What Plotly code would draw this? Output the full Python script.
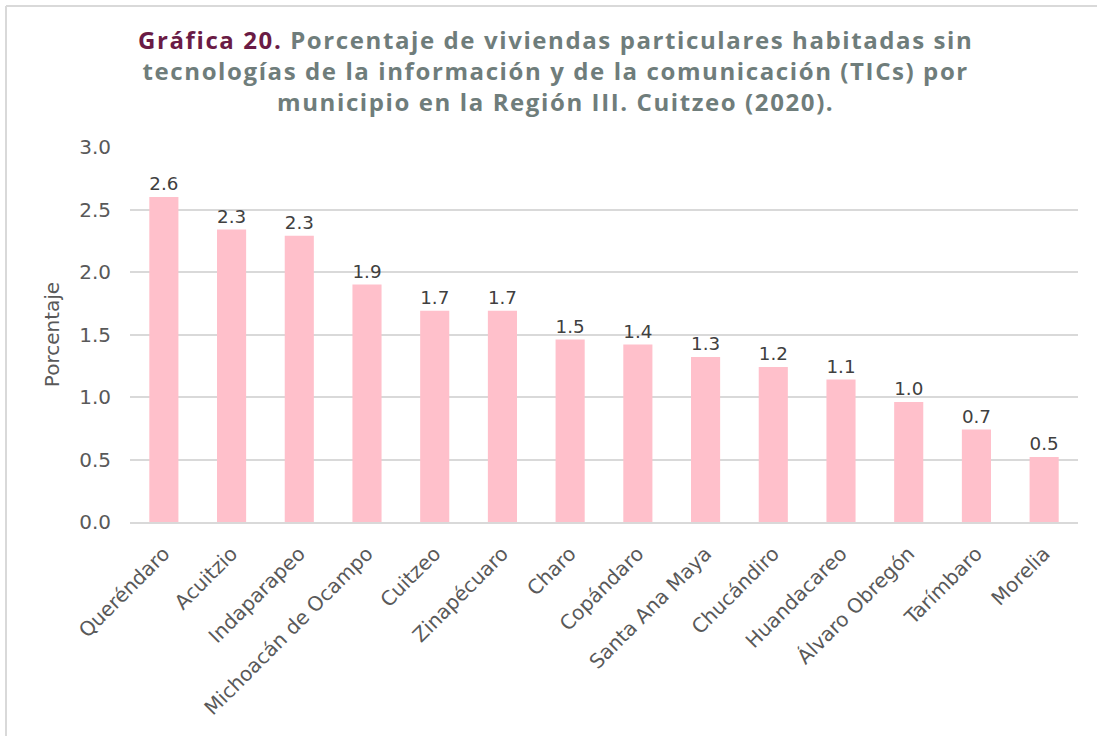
import plotly.graph_objects as go

municipios = ["Queréndaro", "Acuitzio", "Indaparapeo", "Michoacán de Ocampo", "Cuitzeo",
              "Zinapécuaro", "Charo", "Copándaro", "Santa Ana Maya", "Chucándiro",
              "Huandacareo", "Álvaro Obregón", "Tarímbaro", "Morelia"]
porcentaje = [2.60, 2.34, 2.29, 1.90, 1.69, 1.69, 1.46, 1.42, 1.32, 1.24, 1.14, 0.96, 0.74, 0.52]
y_ticks = [0.0, 0.5, 1.0, 1.5, 2.0, 2.5, 3.0]
title_lines = [
    "<span style='color:#6A1B45'>Gráfica 20.</span> Porcentaje de viviendas particulares habitadas sin",
    "tecnologías de la información y de la comunicación (TICs) por",
    "municipio en la Región III. Cuitzeo (2020).",
]

W, H = 1097, 736
L, R, T, B = 130, 19, 147, 214
pw, ph = W - L - R, H - T - B

def px(x):
    return (x - L) / pw

def py(y):
    return (H - B - y) / ph

tick_font = "DejaVu Sans, sans-serif"

fig = go.Figure(go.Bar(
    x=municipios, y=porcentaje,
    marker=dict(color="#FFC0CB", line=dict(width=0)),
    texttemplate="%{y:.1f}", textposition="outside", cliponaxis=False,
    textfont=dict(size=19, color="#404040", family=tick_font),
))

fig.update_layout(
    width=W, height=H,
    margin=dict(l=L, r=R, t=T, b=B, autoexpand=False),
    paper_bgcolor="white", plot_bgcolor="white",
    bargap=0.57,
    showlegend=False,
    font=dict(family=tick_font, color="#595959"),
    xaxis=dict(tickangle=-45, tickfont=dict(size=20, color="#595959"),
               showline=True, linecolor="#d9d9d9", linewidth=2, ticks="",
               showgrid=False, ticklabelstandoff=10),
    yaxis=dict(range=[0, 3.0], tickvals=y_ticks, tickformat=".1f",
               tickfont=dict(size=20, color="#595959"),
               showgrid=True, gridcolor="#d9d9d9", gridwidth=1.5,
               zeroline=False, ticks="", ticklen=0, ticklabelstandoff=18,
               title=dict(text="Porcentaje", font=dict(size=20, color="#595959"), standoff=14)),
)

fig.add_annotation(
    xref="paper", yref="paper", x=px(555), y=py(71), xanchor="center", yanchor="middle",
    showarrow=False, align="center",
    text="<b><span style='letter-spacing:1.6px'>" + "<br>".join(title_lines) + "</span></b>",
    font=dict(family="Open Sans, sans-serif", size=24, color="#6F7D7B"),
)

# frame
fig.add_shape(type="line", xref="paper", yref="paper", x0=px(6), x1=px(W + 5), y0=py(6), y1=py(6),
              line=dict(color="#d9d9d9", width=2))
fig.add_shape(type="line", xref="paper", yref="paper", x0=px(6), x1=px(6), y0=py(6), y1=py(H + 5),
              line=dict(color="#d9d9d9", width=2))

fig.write_html("out.html", config={"displayModeBar": False},
               post_script="document.body.style.margin='0';document.body.style.padding='0';")
